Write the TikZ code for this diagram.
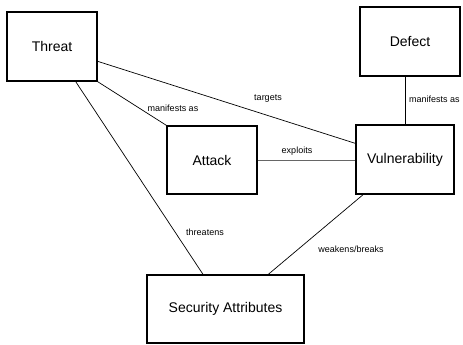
\documentclass[tikz,border=0pt]{standalone}
\usepackage{fontspec}
\setmainfont{Liberation Sans}
\begin{document}
\begin{tikzpicture}[x=1pt,y=-1pt,
  box/.style={draw,line width=1.3pt,rectangle,inner sep=0pt,font=\fontsize{14}{16}\selectfont},
  conn/.style={line width=0.7pt},
  lbl/.style={inner sep=0pt,font=\fontsize{9}{10}\selectfont}]
\useasboundingbox (0,0) rectangle (463,345);
\node[box,minimum width=90pt,minimum height=69pt] (threat) at (52,46.5) {Threat};
\node[box,minimum width=90pt,minimum height=68pt] (attack) at (212,160) {Attack};
\node[box,minimum width=100pt,minimum height=69pt] (defect) at (410,41.5) {Defect};
\node[box,minimum width=98pt,minimum height=69pt] (vuln) at (405,159.5) {Vulnerability};
\node[box,minimum width=157pt,minimum height=68pt] (sec) at (225.5,309) {Security Attributes};

\draw[conn] (threat.-18) -- (vuln.162);
\draw[conn] (threat.south east) -- (attack.north west);
\draw[conn] (threat.-56) -- (sec.123.5);
\draw[conn,black!60] (attack.east) -- (vuln.west |- attack.east);
\draw[conn] (vuln.north) -- (vuln.north |- defect.south);
\draw[conn] (vuln.220) -- (sec.39);

\node[lbl] (l1) at (268,99) {targets};
\node[lbl] (l2) at (173,108) {manifests as};
\node[lbl] (l3) at (205,232) {threatens};
\node[lbl] (l4) at (297,151) {exploits};
\node[lbl,anchor=west] (l5) at (409,99) {manifests as};
\node[lbl] (l6) at (351,249) {weakens/breaks};
\end{tikzpicture}
\end{document}
